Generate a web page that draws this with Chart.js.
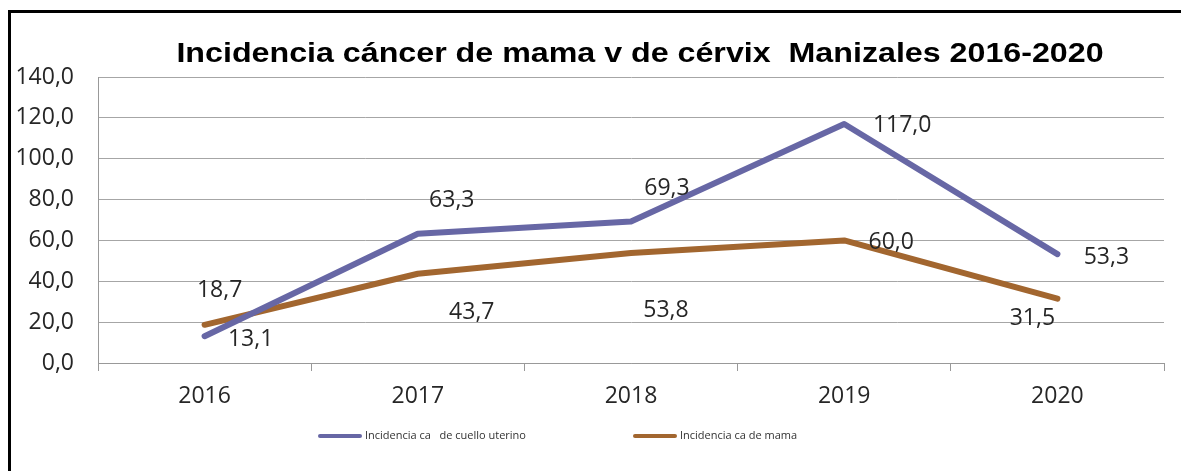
<!DOCTYPE html>
<html>
<head>
<meta charset="utf-8">
<script src="https://cdn.jsdelivr.net/npm/chart.js@4.4.1/dist/chart.umd.min.js"></script>
<style>
  html, body { margin: 0; padding: 0; background: #fff; }
  #wrap { width: 1181px; height: 471px; }
</style>
</head>
<body>
<div id="wrap"><canvas id="myChart" width="1181" height="471"></canvas></div>
<script>
// values
var years = ['2016', '2017', '2018', '2019', '2020'];
var cuello = [13.1, 63.3, 69.3, 117.0, 53.3];
var mama = [18.7, 43.7, 53.8, 60.0, 31.5];
var yTicks = [0, 20, 40, 60, 80, 100, 120, 140];

var titleText = 'Incidencia cáncer de mama v de cérvix  Manizales 2016-2020';
var purple = '#6767a5';
var brown = '#a2662f';

function fmt(v) {
    return v.toFixed(1).replace('.', ',');
}

// where each value label sits, relative to its point
var labelShift = [
    [[46, 3], [34, -33], [36, -33], [58, 1], [49, 3]],
    [[15, -34], [54, 39], [35, 57], [47, 2], [-25, 20]]
];

var framePlugin = {
    id: 'frame',
    beforeDraw: function(chart) {
        var ctx = chart.ctx;
        ctx.save();
        ctx.fillStyle = '#fff';
        ctx.fillRect(0, 0, chart.width, chart.height);
        ctx.strokeStyle = '#000';
        ctx.lineWidth = 3;
        ctx.strokeRect(9.5, 11.5, 1300, 600);
        ctx.restore();
    },
    afterDraw: function(chart) {
        var ctx = chart.ctx;
        ctx.save();
        // title (the original is a bit stretched sideways)
        ctx.save();
        ctx.translate(640, 54);
        ctx.scale(1.15, 1);
        ctx.fillStyle = '#000';
        ctx.font = 'bold 28px "Liberation Sans", Arial, sans-serif';
        ctx.textAlign = 'center';
        ctx.textBaseline = 'middle';
        ctx.fillText(titleText, 0, 0);
        ctx.restore();

        // value labels
        ctx.font = '23px "Open Sans", sans-serif';
        ctx.fillStyle = '#262626';
        ctx.textAlign = 'center';
        ctx.textBaseline = 'middle';
        chart.data.datasets.forEach(function(ds, i) {
            var meta = chart.getDatasetMeta(i);
            meta.data.forEach(function(pt, j) {
                var s = labelShift[i][j];
                ctx.fillText(fmt(ds.data[j]), pt.x + s[0], pt.y + s[1]);
            });
        });

        // legend
        var items = [
            {x: 318, label: 'Incidencia ca   de cuello uterino', color: purple},
            {x: 633, label: 'Incidencia ca de mama', color: brown}
        ];
        ctx.font = '11px "Open Sans", sans-serif';
        ctx.textAlign = 'left';
        ctx.lineCap = 'round';
        items.forEach(function(it) {
            ctx.strokeStyle = it.color;
            ctx.lineWidth = 4;
            ctx.beginPath();
            ctx.moveTo(it.x + 2, 436);
            ctx.lineTo(it.x + 42, 436);
            ctx.stroke();
            ctx.fillStyle = '#333';
            ctx.fillText(it.label, it.x + 47, 436);
        });
        ctx.restore();
    }
};

var ctx = document.getElementById('myChart').getContext('2d');
var myChart = new Chart(ctx, {
    type: 'line',
    data: {
        labels: years,
        datasets: [{
            label: 'Incidencia ca   de cuello uterino',
            data: cuello,
            borderColor: purple,
            borderWidth: 6,
            pointRadius: 0,
            tension: 0,
            borderCapStyle: 'round',
            borderJoinStyle: 'round'
        }, {
            label: 'Incidencia ca de mama',
            data: mama,
            borderColor: brown,
            borderWidth: 6,
            pointRadius: 0,
            tension: 0,
            borderCapStyle: 'round',
            borderJoinStyle: 'round'
        }]
    },
    options: {
        responsive: false,
        animation: false,
        devicePixelRatio: 1,
        layout: {
            padding: {top: 77, right: 17, left: 0, bottom: 0}
        },
        plugins: {
            legend: {display: false},
            title: {display: false},
            tooltip: {enabled: false}
        },
        scales: {
            x: {
                offset: true,
                afterFit: function(axis) { axis.height = 108; },
                grid: {
                    offset: true,
                    drawOnChartArea: false,
                    drawTicks: true,
                    tickLength: 8,
                    color: '#999'
                },
                border: {color: '#999', width: 1},
                ticks: {
                    padding: 12,
                    color: '#262626',
                    font: {family: '"Open Sans", sans-serif', size: 23}
                }
            },
            y: {
                min: 0,
                max: 140,
                afterFit: function(axis) { axis.width = 98; },
                afterBuildTicks: function(axis) {
                    axis.ticks = yTicks.map(function(v) { return {value: v}; });
                },
                grid: {
                    color: '#a6a6a6',
                    drawTicks: false
                },
                border: {color: '#999', width: 1},
                ticks: {
                    padding: 24,
                    color: '#262626',
                    font: {family: '"Open Sans", sans-serif', size: 23},
                    callback: function(v) { return fmt(v); }
                }
            }
        }
    },
    plugins: [framePlugin]
});
</script>
</body>
</html>
